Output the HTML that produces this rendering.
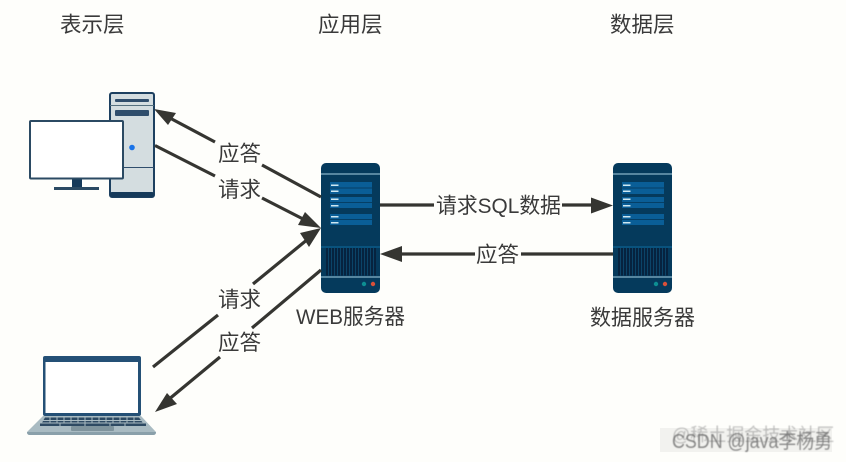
<!DOCTYPE html>
<html>
<head>
<meta charset="utf-8">
<style>
html,body{margin:0;padding:0;background:#fefefb;}
svg{display:block;}
text{font-family:"Liberation Sans","Noto Sans CJK SC",sans-serif;fill:#3a3a3a;}
</style>
</head>
<body>
<svg width="846" height="462" viewBox="0 0 846 462" xmlns="http://www.w3.org/2000/svg">
<defs>
<filter id="b" x="-5%" y="-20%" width="110%" height="140%"><feGaussianBlur stdDeviation="0.6"/></filter>
<g id="srv">
  <rect x="0" y="0" width="59" height="130" rx="5" fill="#053a5c"/>
  <rect x="0" y="10.500" width="59" height="1" fill="#a9d3e4"/>
  <rect x="9" y="19" width="42" height="12" fill="#0a5e97"/>
  <rect x="9" y="24.500" width="42" height="1" fill="#053f66"/>
  <rect x="9" y="34" width="42" height="11" fill="#0a5e97"/>
  <rect x="9" y="39" width="42" height="1" fill="#053f66"/>
  <rect x="9" y="51" width="42" height="11" fill="#0a5e97"/>
  <rect x="9" y="56" width="42" height="1" fill="#053f66"/>
  <rect x="10" y="21.500" width="7.500" height="1.500" fill="#cfe8f2"/>
  <rect x="10" y="27.500" width="7.500" height="1.500" fill="#cfe8f2"/>
  <rect x="10" y="35.500" width="7.500" height="1.500" fill="#cfe8f2"/>
  <rect x="10" y="42" width="7.500" height="1.500" fill="#cfe8f2"/>
  <rect x="10" y="53" width="7.500" height="1.500" fill="#cfe8f2"/>
  <rect x="10" y="59" width="7.500" height="1.500" fill="#cfe8f2"/>
  <rect x="0" y="83.500" width="59" height="1" fill="#0d6a9e"/>
  <rect x="5" y="85" width="50" height="27.500" fill="#06233f"/>
  <path d="M7.500 85v27.500M10.500 85v27.500M13.500 85v27.500M16.500 85v27.500M19.500 85v27.500M22.500 85v27.500M25.500 85v27.500M28.500 85v27.500M31.500 85v27.500M34.500 85v27.500M37.500 85v27.500M40.500 85v27.500M43.500 85v27.500M46.500 85v27.500M49.500 85v27.500M52.500 85v27.500" stroke="#0b4468" stroke-width="1"/>
  <rect x="0" y="113.500" width="59" height="1" fill="#a9d3e4"/>
  <circle cx="43" cy="121" r="2.200" fill="#0d8f92"/>
  <circle cx="52" cy="121" r="2.200" fill="#d8503a"/>
</g>
</defs>
<rect width="846" height="462" fill="#fefefb"/>

<!-- tower -->
<rect x="110" y="93" width="44" height="104" rx="2" fill="#d4dde0" stroke="#1d4060" stroke-width="2"/>
<rect x="110" y="192" width="44" height="5" rx="2" fill="#163a5a"/>
<rect x="110" y="105" width="44" height="1" fill="#55707f"/>
<rect x="115" y="99" width="34" height="3" rx="1" fill="#2f4d6c"/>
<rect x="115" y="110" width="34" height="6" rx="1" fill="#2f4d6c"/>
<rect x="124" y="167" width="30" height="1" fill="#2f4d6c"/>
<circle cx="132" cy="147.500" r="2.800" fill="#1a73e8"/>

<!-- monitor -->
<rect x="30" y="121" width="93" height="57.500" rx="1" fill="#ffffff" stroke="#2b4a63" stroke-width="2"/>
<rect x="72" y="179.500" width="10" height="8" fill="#163a5a"/>
<rect x="54" y="187" width="45" height="3" fill="#2b4a63"/>

<!-- laptop -->
<rect x="43" y="356" width="98" height="60" rx="2" fill="#245076"/>
<rect x="45.500" y="362" width="92.500" height="51" fill="#ffffff"/>
<path d="M43 416H141L156 432Q156 435 153 435H30Q27 435 27 432Z" fill="#a9bbc2"/>
<path d="M27 432Q27 435 30 435H153Q156 435 156 432Z" fill="#8aa0aa"/>
<path d="M45 417.500H139L144 424.500H41Z" fill="#2d4a63"/>
<path d="M50 417v8M57 417v8M64 417v8M71 417v8M78 417v8M85 417v8M92 417v8M99 417v8M106 417v8M113 417v8M120 417v8M127 417v8M134 417v8M40 420.500H145" stroke="#a9bbc2" stroke-width="1"/>
<rect x="40" y="422.500" width="106" height="1" fill="#a9bbc2"/>
<rect x="40" y="423.500" width="106" height="2.500" fill="#2d4a63"/>
<path d="M60 423v3M85 423v3M110 423v3M125 423v3" stroke="#a9bbc2" stroke-width="1"/>
<rect x="71" y="426" width="43" height="5" rx="1" fill="#7f949d"/>

<!-- servers -->
<use href="#srv" x="321" y="163"/>
<use href="#srv" x="613" y="163"/>

<!-- connectors -->
<g stroke="#353531" stroke-width="3.200" fill="none">
  <path d="M321 197L262 165"/>
  <path d="M215 142L168 117"/>
  <path d="M155 145.500L215 176"/>
  <path d="M262 198L305 220"/>
  <path d="M153 367L218 315"/>
  <path d="M253 284L308 239"/>
  <path d="M321 270L252 328"/>
  <path d="M220 357L168 400"/>
  <path d="M380 205H434"/>
  <path d="M562 205H600"/>
  <path d="M395 254H475"/>
  <path d="M521 254H613"/>
</g>
<g fill="#353531">
  <path d="M154 109L176 113L168 125Z"/>
  <path d="M321 228L298 225L305 212Z"/>
  <path d="M321 228L309 247L300 233Z"/>
  <path d="M155 412L167 393L177 404Z"/>
  <path d="M613 205.500L591 197.500V213.500Z"/>
  <path d="M380 254L402 246V262Z"/>
</g>

<!-- labels -->
<g font-size="21.500">
  <text x="60" y="32">表示层</text>
  <text x="318" y="32">应用层</text>
  <text x="610" y="32">数据层</text>
  <text x="218" y="161">应答</text>
  <text x="218" y="197">请求</text>
  <text x="218" y="307">请求</text>
  <text x="218" y="350">应答</text>
  <text x="436" y="213" textLength="125" lengthAdjust="spacingAndGlyphs">请求SQL数据</text>
  <text x="476" y="262">应答</text>
  <text x="296" y="324" textLength="109" lengthAdjust="spacingAndGlyphs">WEB服务器</text>
  <text x="590" y="325" textLength="105" lengthAdjust="spacingAndGlyphs">数据服务器</text>
</g>

<!-- watermark -->
<rect x="660" y="428" width="172" height="24" fill="#dcdcda" opacity="0.35"/>
<g filter="url(#b)">
  <text x="672" y="441" font-size="18" opacity="0.5" style="fill:#888">@稀土掘金技术社区</text>
  <text x="672" y="448" font-size="20" opacity="0.75" style="fill:#666" textLength="160" lengthAdjust="spacingAndGlyphs">CSDN @java李杨勇</text>
</g>
</svg>
</body>
</html>
